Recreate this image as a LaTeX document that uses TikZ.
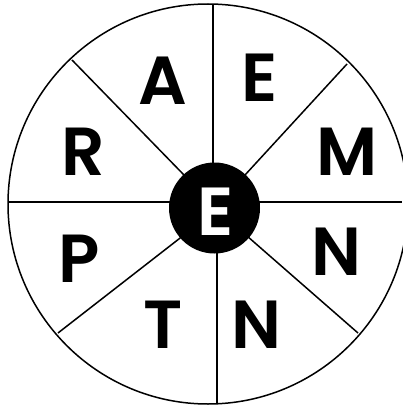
\documentclass[tikz,border=0pt]{standalone}
\usepackage{fontspec}
\newfontfamily\pop{Poppins}[BoldFont={* SemiBold}]
\begin{document}
\begin{tikzpicture}[x=1pt,y=-1pt,
  spoke/.style={line width=1.5pt,black},
  letter/.style={anchor=base,inner sep=0pt,font=\pop\bfseries\fontsize{68}{68}\selectfont}]
\useasboundingbox (0,0) rectangle (402,406);
\node[draw,line width=1.5pt,circle,minimum size=400pt,inner sep=0pt] (outer) at (208,204) {};
\draw[spoke] (213,5) -- (213,165);
\draw[spoke] (217,250) -- (217,404);
\draw[spoke] (9,202) -- (172,202);
\draw[spoke] (258,202) -- (402,202);
\draw[spoke] (72,60) -- (184,175);
\draw[spoke] (347,64) -- (245,175);
\draw[spoke] (247,236) -- (358,333);
\draw[spoke] (184,235) -- (58,333);
\node[circle,fill=black,minimum size=91pt,inner sep=0pt] (hub) at (214.5,208) {};
\node[letter,text=white] (ce) at (216,235) {E};
\node[letter] (la) at (163,105) {A};
\node[letter] (le) at (260,102) {E};
\node[letter] (lm) at (347,175) {M};
\node[letter] (ln1) at (336,275) {N};
\node[letter] (ln2) at (256,348) {N};
\node[letter] (lt) at (163,348) {T};
\node[letter] (lp) at (79,282) {P};
\node[letter] (lr) at (83,175) {R};
\end{tikzpicture}
\end{document}
